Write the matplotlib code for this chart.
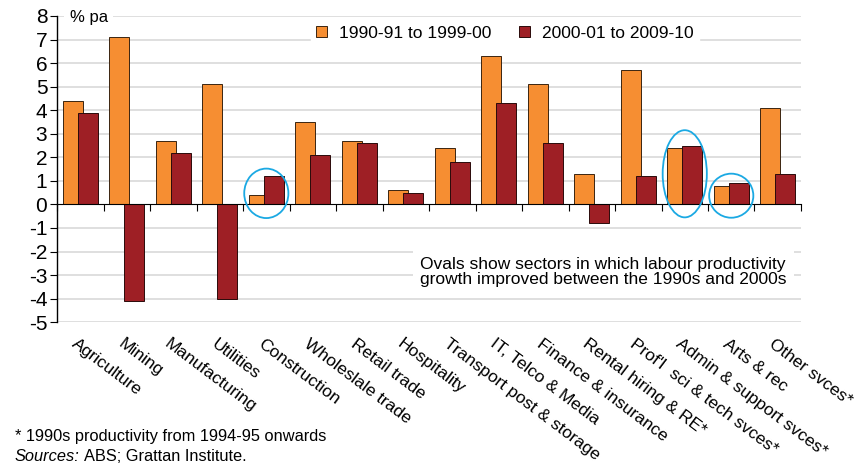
import matplotlib.pyplot as plt
import matplotlib.transforms as mtransforms
from matplotlib.patches import Ellipse
import numpy as np

# sectors and labour productivity growth, % per annum
sectors = ['Agriculture', 'Mining', 'Manufacturing', 'Utilities', 'Construction',
           'Wholeslale trade', 'Retail trade', 'Hospitality', 'Transport post & storage',
           'IT, Telco & Media', 'Finance & insurance', 'Rental hiring & RE*',
           "Prof'l  sci & tech svces*", 'Admin & support svces*', 'Arts & rec',
           'Other svces*']
growth_1990s = [4.4, 7.1, 2.7, 5.1, 0.4, 3.5, 2.7, 0.6, 2.4, 6.3, 5.1, 1.3, 5.7, 2.4, 0.8, 4.1]
growth_2000s = [3.9, -4.1, 2.2, -4.0, 1.2, 2.1, 2.6, 0.5, 1.8, 4.3, 2.6, -0.8, 1.2, 2.5, 0.9, 1.3]
label_1990s = '1990-91 to 1999-00'
label_2000s = '2000-01 to 2009-10'

# sectors that improved get an oval (index, centre y, height)
ovals = [(4, 0.47, 2.1), (13, 1.3, 3.7), (14, 0.37, 1.87)]

plt.rcParams['font.family'] = ['Liberation Sans', 'DejaVu Sans']
plt.rcParams['axes.unicode_minus'] = False

orange = '#F68E32'
red = '#9E1F25'
oval_col = '#1BA9E3'

fig, ax = plt.subplots(figsize=(8.65, 4.69), dpi=100)
fig.subplots_adjust(left=0.066, right=0.926, top=0.966, bottom=0.313)

x = np.arange(len(sectors))
w = 0.43
ax.bar(x - 0.16, growth_1990s, width=w, color=orange, edgecolor='#3b2410',
       linewidth=0.7, label=label_1990s, zorder=3)
ax.bar(x + 0.16, growth_2000s, width=w, color=red, edgecolor='#2a0a0a',
       linewidth=0.7, label=label_2000s, zorder=4)

for i, cy, h in ovals:
    ax.add_patch(Ellipse((i, cy), 0.95, h, fill=False, edgecolor=oval_col,
                         linewidth=1.3, zorder=6))

ax.set_xlim(-0.5, len(sectors) - 0.5)
ax.set_ylim(-5, 8)
ax.set_yticks(range(-5, 9))
ax.tick_params(axis='y', labelsize=15, length=5, width=0.8, pad=2)

# grid
for v in range(-5, 9):
    if v != 0:
        ax.axhline(v, color='#D9D9D9', linewidth=1.2, zorder=0)

ax.spines['top'].set_visible(False)
ax.spines['right'].set_visible(False)
ax.spines['bottom'].set_position(('data', 0))
ax.spines['bottom'].set_zorder(5)
ax.spines['left'].set_linewidth(1.0)

ax.set_xticks(np.arange(-0.5, len(sectors), 1.0))
ax.set_xticklabels([])
ax.tick_params(axis='x', length=5, width=0.8, direction='out')

trans = mtransforms.blended_transform_factory(ax.transData, ax.transAxes)
for i, s in enumerate(sectors):
    ax.text(i - 0.05, -0.045, s, transform=trans, rotation=-37, rotation_mode='anchor',
            ha='left', va='top', fontsize=12.5)

ax.text(0.017, 0.995, '% pa', transform=ax.transAxes, fontsize=12, va='center',
        ha='left', bbox=dict(facecolor='white', edgecolor='none', pad=4), zorder=2)

leg = ax.legend(loc='center', bbox_to_anchor=(0.602, 0.944), ncol=2, fontsize=12.5,
                frameon=True, fancybox=False, edgecolor='white', framealpha=1,
                handlelength=0.6, handleheight=0.6, columnspacing=1.6,
                handletextpad=0.7, borderpad=0.3)
leg.set_zorder(2)

ax.text(0.488, 0.163, 'Ovals show sectors in which labour productivity\n'
        'growth improved between the 1990s and 2000s', transform=ax.transAxes,
        fontsize=12.5, va='center', ha='left', linespacing=1.0,
        bbox=dict(facecolor='white', edgecolor='none', pad=5), zorder=2)

fig.text(0.017, 0.060, '* 1990s productivity from 1994-95 onwards', fontsize=11.8)
src = fig.text(0.017, 0.018, 'Sources:', fontsize=11.8, style='italic')
fig.canvas.draw()
bb = src.get_window_extent().transformed(fig.transFigure.inverted())
fig.text(bb.x1 + 0.005, 0.018, 'ABS; Grattan Institute.', fontsize=11.8)

fig.savefig('out.png', dpi=100)
